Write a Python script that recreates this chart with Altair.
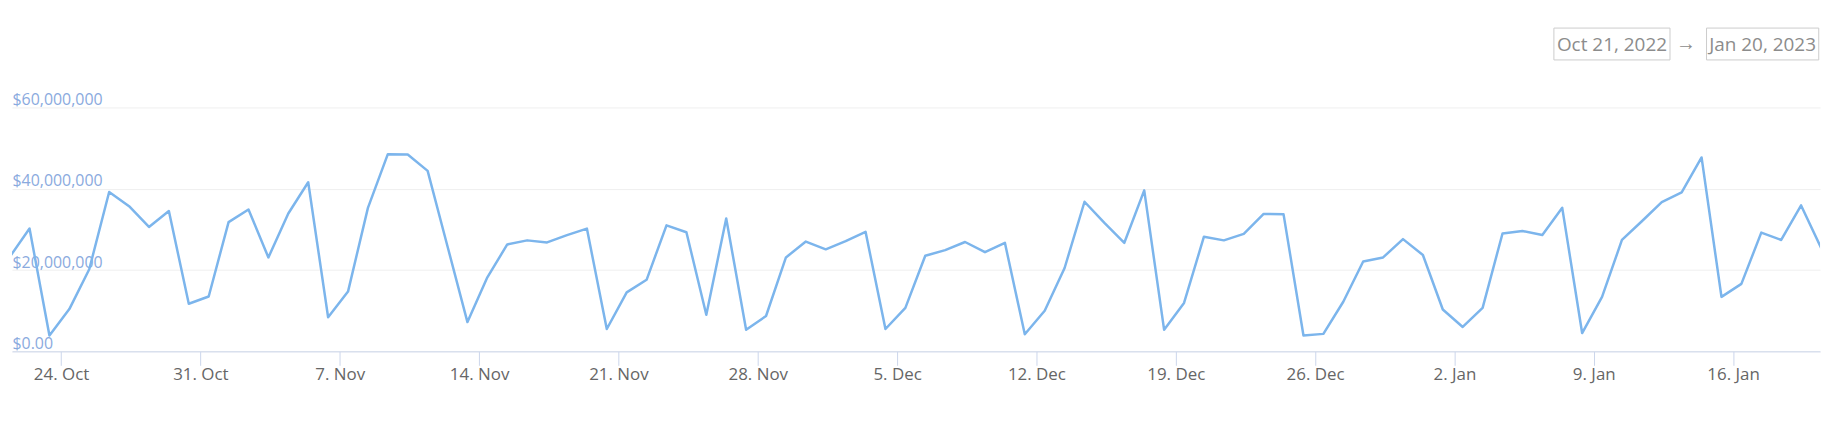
import altair as alt
import pandas as pd

# Daily volume (millions of USD), Oct 21, 2022 .. Jan 20, 2023
start_date = "2022-10-21"
oct_vals = [23.2, 30.2, 3.9, 10.4, 20.2, 39.2, 35.7, 30.6, 34.5, 11.7, 13.5]
nov_vals = [31.8, 34.9, 23.1, 33.9, 41.6, 8.4, 14.7, 35.3, 48.5, 48.4,
            44.4, 25.8, 7.2, 18.2, 26.3, 27.3, 26.8, 28.6, 30.2, 5.5,
            14.5, 17.6, 31.0, 29.3, 9.0, 32.7, 5.3, 8.7, 23.1, 27.0]
dec_vals = [25.1, 27.1, 29.4, 5.5, 10.7, 23.5, 24.9, 26.9, 24.4, 26.7,
            4.2, 10.0, 20.5, 36.8, 31.6, 26.7, 39.6, 5.3, 11.9, 28.2,
            27.3, 28.9, 33.8, 33.7, 3.9, 4.3, 12.2, 22.1, 23.1, 27.6, 23.7]
jan_vals = [10.3, 6.0, 10.7, 29.0, 29.6, 28.6, 35.3, 4.5, 13.4, 27.4,
            32.0, 36.7, 39.1, 47.7, 13.4, 16.6, 29.2, 27.4, 35.9, 25.5]
values_musd = oct_vals + nov_vals + dec_vals + jan_vals

y_ticks = [0, 20_000_000, 40_000_000, 60_000_000]
x_tick_days = [(2022, 10, 24), (2022, 10, 31), (2022, 11, 7), (2022, 11, 14),
               (2022, 11, 21), (2022, 11, 28), (2022, 12, 5), (2022, 12, 12),
               (2022, 12, 19), (2022, 12, 26), (2023, 1, 2), (2023, 1, 9),
               (2023, 1, 16)]
range_start_label = "Oct 21, 2022"
range_end_label = "Jan 20, 2023"

dates = pd.date_range(start_date, periods=len(values_musd), freq="D") + pd.Timedelta(hours=10)
df = pd.DataFrame({
    "date": dates.strftime("%Y-%m-%dT%H:%M:%S"),
    "volume": [v * 1e6 for v in values_musd],
})

FONT = "Open Sans"
W, H = 1816, 245

line = alt.Chart(df).mark_line(
    color="#7cb5ec", strokeWidth=2.5, clip=True, strokeJoin="round", strokeCap="round"
).encode(
    x=alt.X(
        "date:T",
        title=None,
        scale=alt.Scale(domain=[
            alt.DateTime(year=2022, month=10, date=21, hours=12, minutes=50),
            alt.DateTime(year=2023, month=1, date=20, hours=8, minutes=50),
        ], nice=False),
        axis=alt.Axis(
            values=[alt.DateTime(year=y, month=m, date=d) for (y, m, d) in x_tick_days],
            format="%-d. %b",
            grid=False,
            domainColor="#ccd6eb",
            domainWidth=1,
            tickColor="#ccd6eb",
            tickSize=14,
            tickWidth=1,
            labelColor="#666666",
            labelFont=FONT,
            labelFontSize=17,
            labelPadding=1,
            labelFlush=False,
        ),
    ),
    y=alt.Y(
        "volume:Q",
        title=None,
        scale=alt.Scale(domain=[0, 60_000_000], nice=False),
        axis=alt.Axis(
            values=y_ticks,
            labelExpr="datum.value == 0 ? '$0.00' : '$' + format(datum.value, ',.0f')",
            orient="left",
            domain=False,
            ticks=False,
            tickSize=0,
            labelAlign="left",
            labelBaseline="alphabetic",
            labelPadding=0,
            labelOffset=-3,
            labelColor="#8aaade",
            labelFont=FONT,
            labelFontSize=16,
            gridColor="#efefef",
            gridWidth=1,
        ),
    ),
)

box_df1 = pd.DataFrame({"label": [range_start_label]})
box_df2 = pd.DataFrame({"label": [range_end_label]})
arrow_df = pd.DataFrame({"label": ["→"]})

box1 = alt.Chart(box_df1).mark_rect(fill="white", stroke="#cccccc", strokeWidth=1).encode(
    x=alt.value(1548.7), x2=alt.value(1665.3), y=alt.value(-79.7), y2=alt.value(-47.7))
txt1 = alt.Chart(box_df1).mark_text(font=FONT, fontSize=19, color="#8c8c8c", baseline="middle", align="center").encode(
    x=alt.value(1607), y=alt.value(-63), text="label:N")
box2 = alt.Chart(box_df2).mark_rect(fill="white", stroke="#cccccc", strokeWidth=1).encode(
    x=alt.value(1702), x2=alt.value(1814.7), y=alt.value(-79.7), y2=alt.value(-47.7))
txt2 = alt.Chart(box_df2).mark_text(font=FONT, fontSize=19, color="#8c8c8c", baseline="middle", align="center").encode(
    x=alt.value(1758.3), y=alt.value(-63), text="label:N")
arrow = alt.Chart(arrow_df).mark_text(font=FONT, fontSize=20, color="#8c8c8c", baseline="middle", align="center").encode(
    x=alt.value(1681.3), y=alt.value(-64), text="label:N")

chart = alt.layer(line, box1, txt1, box2, txt2, arrow).properties(
    width=W, height=H,
    autosize=alt.AutoSizeParams(type="none"),
    padding={"left": 4, "top": 99, "right": 8, "bottom": 50},
    background="white",
).configure_view(stroke=None)

chart.save("out.html", embed_options={"renderer": "svg", "actions": False})
